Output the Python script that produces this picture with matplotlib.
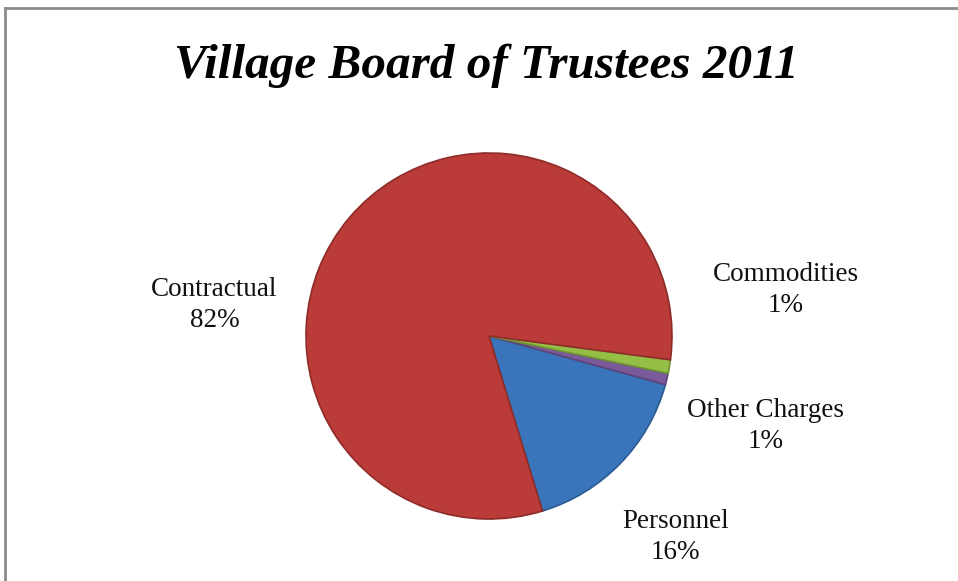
import matplotlib.pyplot as plt
from matplotlib.lines import Line2D

categories = ['Personnel', 'Other Charges', 'Commodities', 'Contractual']
values = [16.0, 1.0, 1.2, 81.8]
pct_labels = ['16%', '1%', '1%', '82%']
colors = ['#3A74BA', '#7B5A9C', '#94BE45', '#BA3B37']
edge_colors = ['#2C5A92', '#5E4478', '#6F9233', '#8E2C29']
# label spots, in pie radius units
label_pos = [(1.02, -1.10), (1.51, -0.49), (1.62, 0.25), (-1.50, 0.17)]

W, H = 958, 581
fig = plt.figure(figsize=(W / 100, H / 100), dpi=100)
fig.patch.set_facecolor('white')

cx, cy, r = 489, 336, 183
ax = fig.add_axes([(cx - r) / W, (H - cy - r) / H, 2 * r / W, 2 * r / H])
wedges, _ = ax.pie(values, colors=colors, startangle=-73, counterclock=True,
                   radius=1, wedgeprops=dict(linewidth=1.2))
for w, ec in zip(wedges, edge_colors):
    w.set_edgecolor(ec)
ax.set_xlim(-1, 1)
ax.set_ylim(-1, 1)
ax.set_aspect('equal')
ax.axis('off')

for name, pct, (lx, ly) in zip(categories, pct_labels, label_pos):
    ax.text(lx, ly, f'{name}\n{pct}', ha='center', va='center',
            fontsize=19.5, family='Liberation Serif', linespacing=1.32,
            color='#111111')

fig.text(486 / W, 1 - 78 / H, 'Village Board of Trustees 2011', ha='center',
         va='baseline', fontsize=35.5, family='Liberation Serif', weight='bold',
         style='italic')

# chart frame (top and left edges)
fig.add_artist(Line2D([5 / W, 1], [1 - 8 / H, 1 - 8 / H], color='#8A8A8A', lw=2))
fig.add_artist(Line2D([5 / W, 5 / W], [0, 1 - 8 / H], color='#8A8A8A', lw=2))

fig.savefig('out.png', dpi=100)
